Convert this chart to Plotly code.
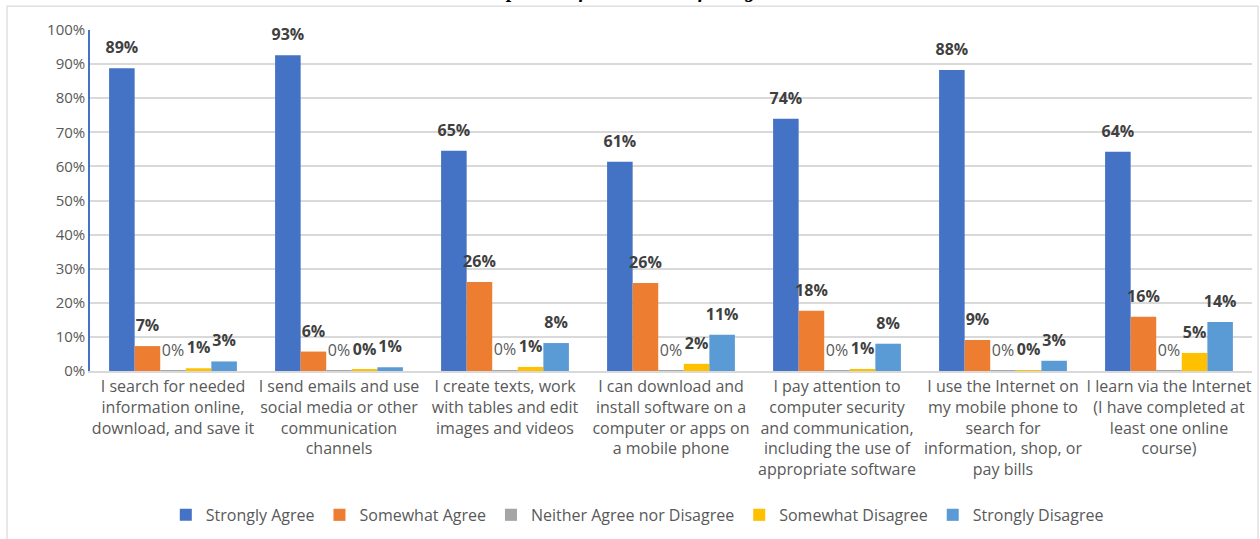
import plotly.graph_objects as go

categories = [
    "I search for needed<br>information online,<br>download, and save it",
    "I send emails and use<br>social media or other<br>communication<br>channels",
    "I create texts, work<br>with tables and edit<br>images and videos",
    "I can download and<br>install software on a<br>computer or apps on<br>a mobile phone",
    "I pay attention to<br>computer security<br>and communication,<br>including the use of<br>appropriate software",
    "I use the Internet on<br>my mobile phone to<br>search for<br>information, shop, or<br>pay bills",
    "I learn via the Internet<br>(I have completed at<br>least one online<br>course)",
]

strongly_agree = [88.8, 92.6, 64.6, 61.4, 74.0, 88.3, 64.3]
somewhat_agree = [7.3, 5.7, 26.1, 25.8, 17.7, 9.1, 15.9]
neither = [0.1, 0.1, 0.2, 0.1, 0.1, 0.1, 0.1]
somewhat_disagree = [0.8, 0.4, 1.2, 2.1, 0.6, 0.2, 5.3]
strongly_disagree = [2.8, 1.1, 8.2, 10.6, 8.0, 3.0, 14.4]

series_names = ["Strongly Agree", "Somewhat Agree", "Neither Agree nor Disagree",
                "Somewhat Disagree", "Strongly Disagree"]
series_values = [strongly_agree, somewhat_agree, neither, somewhat_disagree, strongly_disagree]
colors = ["#4472C4", "#ED7D31", "#A5A5A5", "#FFC000", "#5B9BD5"]
y_ticks = [0, 10, 20, 30, 40, 50, 60, 70, 80, 90, 100]
y_tick_labels = [f"{v}%" for v in y_ticks]

FONT = "Open Sans"
GAP = 0.23

fig = go.Figure()
for i, (name, vals, col) in enumerate(zip(series_names, series_values, colors)):
    fig.add_trace(go.Bar(
        name=name, x=categories, y=vals, marker=dict(color=col, line=dict(width=0)),
        offsetgroup=str(i), hoverinfo="x+y",
    ))

# value labels, placed by grouped scatter traces aligned with the bars
for i, (name, vals) in enumerate(zip(series_names, series_values)):
    is_neutral = name.startswith("Neither")
    fig.add_trace(go.Scatter(
        x=categories, y=vals, mode="markers+text", offsetgroup=str(i),
        marker=dict(size=16, opacity=0), showlegend=False, hoverinfo="skip",
        texttemplate="%{y:.0f}%", textposition="top center", cliponaxis=False,
        textfont=dict(family=FONT, size=16,
                      color="#595959" if is_neutral else "#404040",
                      weight="normal" if is_neutral else "bold"),
    ))

fig.update_layout(
    width=1260, height=539,
    margin=dict(l=90, r=8, t=30, b=167),
    paper_bgcolor="white", plot_bgcolor="white",
    barmode="group", bargap=GAP, bargroupgap=0,
    scattermode="group", scattergap=GAP,
    font=dict(family=FONT, color="#595959", size=15),
    showlegend=True,
    legend=dict(orientation="h", x=0.471, xanchor="center", y=-0.418, yanchor="middle",
                font=dict(family=FONT, size=16, color="#595959"), itemwidth=30,
                traceorder="normal"),
    xaxis=dict(showline=True, linecolor="#d9d9d9", linewidth=1.5, ticks="",
               tickfont=dict(family=FONT, size=16, color="#595959"), tickangle=0),
    yaxis=dict(range=[0, 100], tickmode="array", tickvals=y_ticks, ticktext=y_tick_labels,
               showgrid=True,
               gridcolor="#d9d9d9", gridwidth=1.5, showline=True, linecolor="#4472C4",
               linewidth=1.5, zeroline=False, ticks="", ticklen=0,
               tickfont=dict(family=FONT, size=15, color="#595959")),
    shapes=[dict(type="rect", xref="paper", yref="paper",
                 x0=-0.0714, x1=1.0052, y0=-0.52, y1=1.070,
                 line=dict(color="#d9d9d9", width=1.2), fillcolor="rgba(0,0,0,0)", layer="below")],
    annotations=[dict(text="<b><i>Graph 4. Self-assessment of using ICT</i></b>",
                      xref="paper", yref="paper", x=0.469, y=1.076, yanchor="bottom",
                      showarrow=False,
                      font=dict(family="Liberation Serif", size=20, color="#000000"))],
)

fig.write_html("out.html", config={"displayModeBar": False},
               post_script="document.body.style.margin='0';")
